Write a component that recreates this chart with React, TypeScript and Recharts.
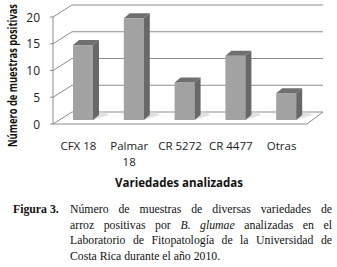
import { BarChart, Bar, XAxis, YAxis, CartesianGrid, Label } from "recharts";

const categories = ["CFX 18", "Palmar 18", "CR 5272", "CR 4477", "Otras"];
const positiveSamples = [14, 19, 7, 12, 5];
const yTicks = [0, 5, 10, 15, 20];

const captionLines = [
  "Número de muestras de diversas variedades de",
  "arroz positivas por ",
  "Laboratorio de Fitopatología de la Universidad de",
  "Costa Rica durante el año 2010.",
];

const data = categories.map((name, i) => ({ name, muestras: positiveSamples[i] }));

const W = 337;
const H = 195;
const M = { top: 13, right: 25, left: 0, bottom: 0 };
const X_AXIS_H = 75;
const PLOT_BOTTOM = H - M.bottom - X_AXIS_H;

// fake 3d: front edge sits down-left of the scale, back wall up-right
const FRONT_DX = -5;
const FRONT_DY = 4;
const BACK_DX = 14;
const BACK_DY = -8;

const GRID = "#8c8c8c";
const SANS = "'Open Sans', sans-serif";
const SERIF = "'Liberation Serif', 'Times New Roman', serif";

function GridLine(props: any) {
  const { x1, x2, y1 } = props;
  const fx = x1 + FRONT_DX;
  const fy = y1 + FRONT_DY;
  const bx = x1 + BACK_DX;
  const by = y1 + BACK_DY;
  const floor = Math.abs(y1 - PLOT_BOTTOM) < 1;
  return (
    <g key={props.key ?? `g-${y1}`}>
      <line x1={fx} y1={fy} x2={bx} y2={by} stroke={GRID} />
      <line x1={bx} y1={by} x2={x2 + 11} y2={by} stroke={GRID} />
      <line x1={fx - 3} y1={fy} x2={fx} y2={fy} stroke={GRID} />
      {floor && (
        <>
          <line x1={fx} y1={fy} x2={x2 - 5} y2={fy} stroke={GRID} />
          <line x1={x2 - 5} y1={fy} x2={x2 + 11} y2={by} stroke={GRID} />
          <line x1={fx} y1={fy} x2={fx} y2={M.top + FRONT_DY} stroke={GRID} />
        </>
      )}
    </g>
  );
}

function Bar3D(props: any) {
  const { x, y, width, height } = props;
  if (!height || height <= 0) return null;
  const d = 6;
  const e = 5;
  const r = x + width;
  const b = y + height;
  return (
    <g>
      <polygon points={`${r},${b} ${r + 16},${b - 5} ${r + 10},${b - 9} ${r},${b - 6}`} fill="#d4d4d4" opacity={0.7} />
      <rect x={x} y={y} width={width} height={height} fill="#a2a2a2" />
      <polygon points={`${r},${y} ${r + d},${y - e} ${r + d},${b - e} ${r},${b}`} fill="#686868" />
      <polygon points={`${x},${y} ${x + d},${y - e} ${r + d},${y - e} ${r},${y}`} fill="#6f6f6f" />
    </g>
  );
}

function YTick(props: any) {
  const { x, y, payload } = props;
  return (
    <text x={x} y={y + FRONT_DY} textAnchor="end" dominantBaseline="central" fontFamily={SANS} fontSize={12} fill="#222">
      {payload.value}
    </text>
  );
}

function XTick(props: any) {
  const { x, y, payload } = props;
  const label = String(payload.value);
  // long names go on two lines, like the original
  const cut = label.lastIndexOf(" ");
  const lines = label.length > 8 && cut > 0 ? [label.slice(0, cut), label.slice(cut + 1)] : [label];
  return (
    <text x={x + FRONT_DX} y={y} textAnchor="middle" fontFamily={SANS} fontSize={11.5} fill="#222">
      {lines.map((l, i) => (
        <tspan key={i} x={x + FRONT_DX} dy={i === 0 ? 8.5 : 16}>
          {l}
        </tspan>
      ))}
    </text>
  );
}

function YTitle(props: any) {
  const vb = props.viewBox;
  const cx = 12;
  const cy = vb.y + vb.height / 2 + 9;
  return (
    <text
      x={cx}
      y={cy}
      transform={`rotate(-90, ${cx}, ${cy})`}
      textAnchor="middle"
      dominantBaseline="central"
      fontFamily={SANS}
      fontWeight="bold"
      fontSize={12}
      textLength={143}
      lengthAdjust="spacingAndGlyphs"
      fill="#111"
    >
      Número de muestras positivas
    </text>
  );
}

function XTitle(props: any) {
  const vb = props.viewBox;
  const cx = vb.x + vb.width / 2 - 6;
  const cy = vb.y + 62;
  return (
    <text
      x={cx}
      y={cy}
      textAnchor="middle"
      dominantBaseline="central"
      fontFamily={SANS}
      fontWeight="bold"
      fontSize={12.5}
      textLength={128}
      lengthAdjust="spacingAndGlyphs"
      fill="#111"
    >
      Variedades analizadas
    </text>
  );
}

const lineStyle = {
  textAlign: "justify" as const,
  textAlignLast: "justify" as const,
  whiteSpace: "nowrap" as const,
  height: 15.5,
};

export default function App() {
  return (
    <div style={{ position: "absolute", left: 0, top: 0, width: W, height: 267, background: "#fff", overflow: "hidden" }}>
      <BarChart width={W} height={H} data={data} margin={M} barSize={20}>
        <CartesianGrid vertical={false} horizontal={GridLine} stroke={GRID} />
        <XAxis
          dataKey="name"
          height={X_AXIS_H}
          axisLine={false}
          tickLine={false}
          tickSize={0}
          tickMargin={21}
          tick={XTick}
          interval={0}
        >
          <Label content={XTitle} />
        </XAxis>
        <YAxis
          width={58}
          domain={[0, 20]}
          ticks={yTicks}
          axisLine={false}
          tickLine={false}
          tickSize={0}
          tickMargin={18}
          tick={YTick}
        >
          <Label content={YTitle} />
        </YAxis>
        <Bar dataKey="muestras" shape={Bar3D} isAnimationActive={false} />
      </BarChart>
      <div style={{ position: "absolute", left: 13, top: 202, width: 320, fontFamily: SERIF, fontSize: 11.75, lineHeight: "15.5px", color: "#111" }}>
        <div style={{ position: "absolute", left: 0, top: 0, fontWeight: "bold" }}>Figura 3.</div>
        <div style={{ position: "absolute", left: 57, top: 0, width: 262 }}>
          <div style={lineStyle}>{captionLines[0]}</div>
          <div style={lineStyle}>
            {captionLines[1]}
            <i>B</i>. <i>glumae</i> analizadas en el
          </div>
          <div style={lineStyle}>{captionLines[2]}</div>
          <div style={{ height: 15.5, whiteSpace: "nowrap" }}>{captionLines[3]}</div>
        </div>
      </div>
    </div>
  );
}
